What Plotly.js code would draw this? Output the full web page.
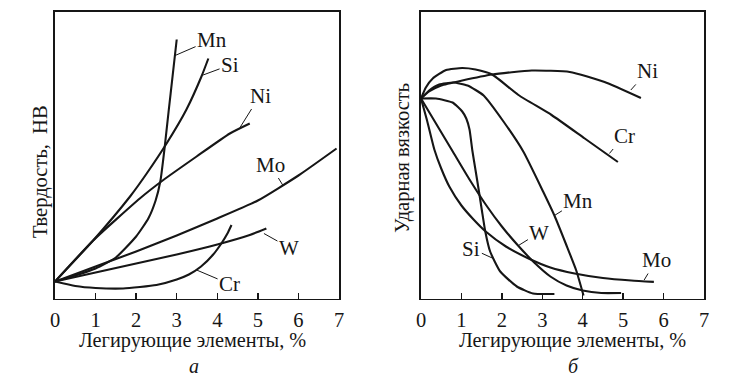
<!DOCTYPE html>
<html>
<head>
<meta charset="utf-8">
<script src="https://cdn.plot.ly/plotly-3.0.1.min.js"></script>
<style>html,body{margin:0;padding:0;background:#fff;}#chart{width:735px;height:377px;}</style>
</head>
<body>
<div id="chart"></div>
<script>
// ---- Panel а: hardness (arbitrary units) vs alloying element, %
const hMnX = [0, 0.5, 1, 1.5, 2.0, 2.3, 2.48, 2.6, 2.7, 2.8, 2.9, 3.0];
const hMnY = [17, 23, 30, 41, 62, 80, 98, 118, 150, 187, 223, 259];
const hSiX = [0, 0.94, 1.85, 2.26, 2.75, 3.24, 3.61, 3.78];
const hSiY = [17, 58, 102, 125, 155, 189, 222, 240];
const hNiX = [0, 0.94, 2.09, 2.67, 3.49, 4.31, 4.8];
const hNiY = [17, 58, 100, 118.5, 142, 165, 175];
const hMoX = [0, 1, 2, 3, 4, 5, 6, 6.94];
const hMoY = [17, 32, 47, 63, 80, 98, 123, 150];
const hWX = [0, 1, 2, 3, 4, 4.8, 5.21];
const hWY = [17, 26, 35, 44, 54, 63.5, 70];
const hCrX = [0, 0.5, 1, 1.68, 2.5, 3, 3.3, 3.6, 3.9, 4.1, 4.25, 4.35];
const hCrY = [17, 12.5, 10.5, 10, 13.5, 19, 24, 32, 44, 55, 65, 73.5];

// ---- Panel б: impact toughness (arbitrary units)
const tNiX = [0, 0.2, 0.5, 1.02, 1.76, 2.74, 3.68, 4.54, 5.44];
const tNiY = [200, 207, 213, 218, 224, 228, 226.5, 216.5, 200.5];
const tCrX = [0, 0.12, 0.29, 0.62, 1.02, 1.35, 1.76, 2.41, 3.23, 4.05, 4.87];
const tCrY = [200, 211, 220, 228.5, 230.5, 229, 224, 203.5, 183.5, 160, 136.5];
const tMnX = [0, 0.2, 0.45, 0.8, 1.15, 1.55, 2.04, 2.53, 3.02, 3.3, 3.59, 3.84, 4.02];
const tMnY = [200, 208, 214, 216, 213, 203, 177, 147, 107, 83, 54, 28, 3];
const tSiX = [0, 0.37, 0.78, 1.02, 1.12, 1.2, 1.27, 1.35, 1.43, 1.51, 1.59, 1.71, 1.96, 2.37, 2.77, 3.3];
const tSiY = [200, 200, 196, 187, 180, 169, 148, 128, 108, 87, 67, 47, 27, 12, 5, 4.5];
const tWX = [0, 0.4, 0.8, 1.2, 1.6, 2.0, 2.4, 2.8, 3.2, 3.6, 4.0, 4.46, 4.95];
const tWY = [200, 173, 146, 119, 94, 72, 53, 36, 22, 13, 8, 5.5, 5.5];
const tMoX = [0, 0.15, 0.33, 0.5, 0.7, 1.0, 1.3, 1.6, 2.1, 2.66, 3.2, 3.8, 4.5, 5.2, 5.76];
const tMoY = [200, 178, 149, 130, 112, 93, 79, 67, 52, 40, 31, 25, 20.5, 18, 16.6];

const xTicks = [0, 1, 2, 3, 4, 5, 6, 7];
const xTitle = 'Легирующие элементы, %';
const yTitleA = 'Твердость,  НВ';
const yTitleB = 'Ударная вязкость';

const INK = '#161616';
const FONT = '"Liberation Serif", "DejaVu Serif", serif';
const lw = 2.1;

function tr(x, y, xa, ya) {
  return {x: x, y: y, xaxis: xa, yaxis: ya, type: 'scatter', mode: 'lines',
    line: {color: INK, width: lw, shape: 'spline', smoothing: 0.5}, hoverinfo: 'skip', showlegend: false};
}
const data = [
  tr(hMnX, hMnY, 'x', 'y'), tr(hSiX, hSiY, 'x', 'y'), tr(hNiX, hNiY, 'x', 'y'),
  tr(hMoX, hMoY, 'x', 'y'), tr(hWX, hWY, 'x', 'y'), tr(hCrX, hCrY, 'x', 'y'),
  tr(tNiX, tNiY, 'x2', 'y2'), tr(tCrX, tCrY, 'x2', 'y2'), tr(tMnX, tMnY, 'x2', 'y2'),
  tr(tSiX, tSiY, 'x2', 'y2'), tr(tWX, tWY, 'x2', 'y2'), tr(tMoX, tMoY, 'x2', 'y2')
];

const W = 735, H = 377;
const xAx = (d) => ({
  domain: d, range: [0, 7], tickvals: xTicks, ticktext: xTicks.map(String),
  ticks: 'inside', ticklen: 6, tickwidth: 1.3, tickcolor: INK,
  showline: true, linecolor: INK, linewidth: 1.6, mirror: true,
  showgrid: false, zeroline: false, fixedrange: true, ticklabelstandoff: 2,
  tickfont: {family: FONT, size: 20.5, color: INK}
});
const yAx = () => ({
  domain: [(H - 298.5) / H, (H - 12) / H], range: [0, 286.5],
  showline: true, linecolor: INK, linewidth: 1.6, mirror: true,
  showticklabels: false, ticks: '', showgrid: false, zeroline: false, fixedrange: true
});

function lab(text, x, y, xr, yr, ax, ay) {
  return {text: text, x: x, y: y, xref: xr, yref: yr, showarrow: true, arrowhead: 0,
    arrowwidth: 1, arrowcolor: INK, ax: ax, ay: ay, standoff: 0, borderpad: 1,
    font: {family: FONT, size: 21, color: INK}};
}
function txt(text, px, py, size, extra) {
  return Object.assign({text: text, x: px / W, y: 1 - py / H, xref: 'paper', yref: 'paper',
    showarrow: false, xanchor: 'center', yanchor: 'middle', borderpad: 0,
    font: {family: FONT, size: size, color: INK}}, extra || {});
}

const annotations = [
  lab('Mn', 2.96, 243, 'x', 'y', 37, -16),
  lab('Si', 3.65, 223.5, 'x', 'y', 27, -10),
  lab('Ni', 4.56, 171, 'x', 'y', 20, -32),
  lab('Mo', 5.62, 113, 'x', 'y', -13, -21),
  lab('W', 5.15, 65, 'x', 'y', 25, 14),
  lab('Cr', 3.49, 28.5, 'x', 'y', 33, 14),
  lab('Ni', 5.19, 208.5, 'x2', 'y2', 17, -19),
  lab('Cr', 4.66, 145, 'x2', 'y2', 15, -18),
  lab('Mn', 3.3, 83, 'x2', 'y2', 24, -15),
  lab('W', 2.41, 53, 'x2', 'y2', 21, -13),
  lab('Si', 1.79, 40, 'x2', 'y2', -22, -10),
  lab('Mo', 5.52, 18.5, 'x2', 'y2', 12, -20),
  txt(xTitle, 192, 340, 20.3),
  txt(xTitle, 572, 340, 20.3),
  txt('<i>а</i>', 194, 366, 20),
  txt('<i>б</i>', 573, 366, 20),
  txt(yTitleA, 40, 172, 20.5, {textangle: -90}),
  txt(yTitleB, 402, 158, 20.5, {textangle: -90})
];

const layout = {
  width: W, height: H, margin: {l: 0, r: 0, t: 0, b: 0},
  paper_bgcolor: '#fff', plot_bgcolor: '#fff', showlegend: false,
  font: {family: FONT, color: INK},
  xaxis: Object.assign(xAx([55 / W, 339 / W]), {anchor: 'y'}),
  yaxis: Object.assign(yAx(), {anchor: 'x'}),
  xaxis2: Object.assign(xAx([421 / W, 704 / W]), {anchor: 'y2'}),
  yaxis2: Object.assign(yAx(), {anchor: 'x2'}),
  annotations: annotations
};
Plotly.newPlot('chart', data, layout, {staticPlot: true, displayModeBar: false});
</script>
</body>
</html>
